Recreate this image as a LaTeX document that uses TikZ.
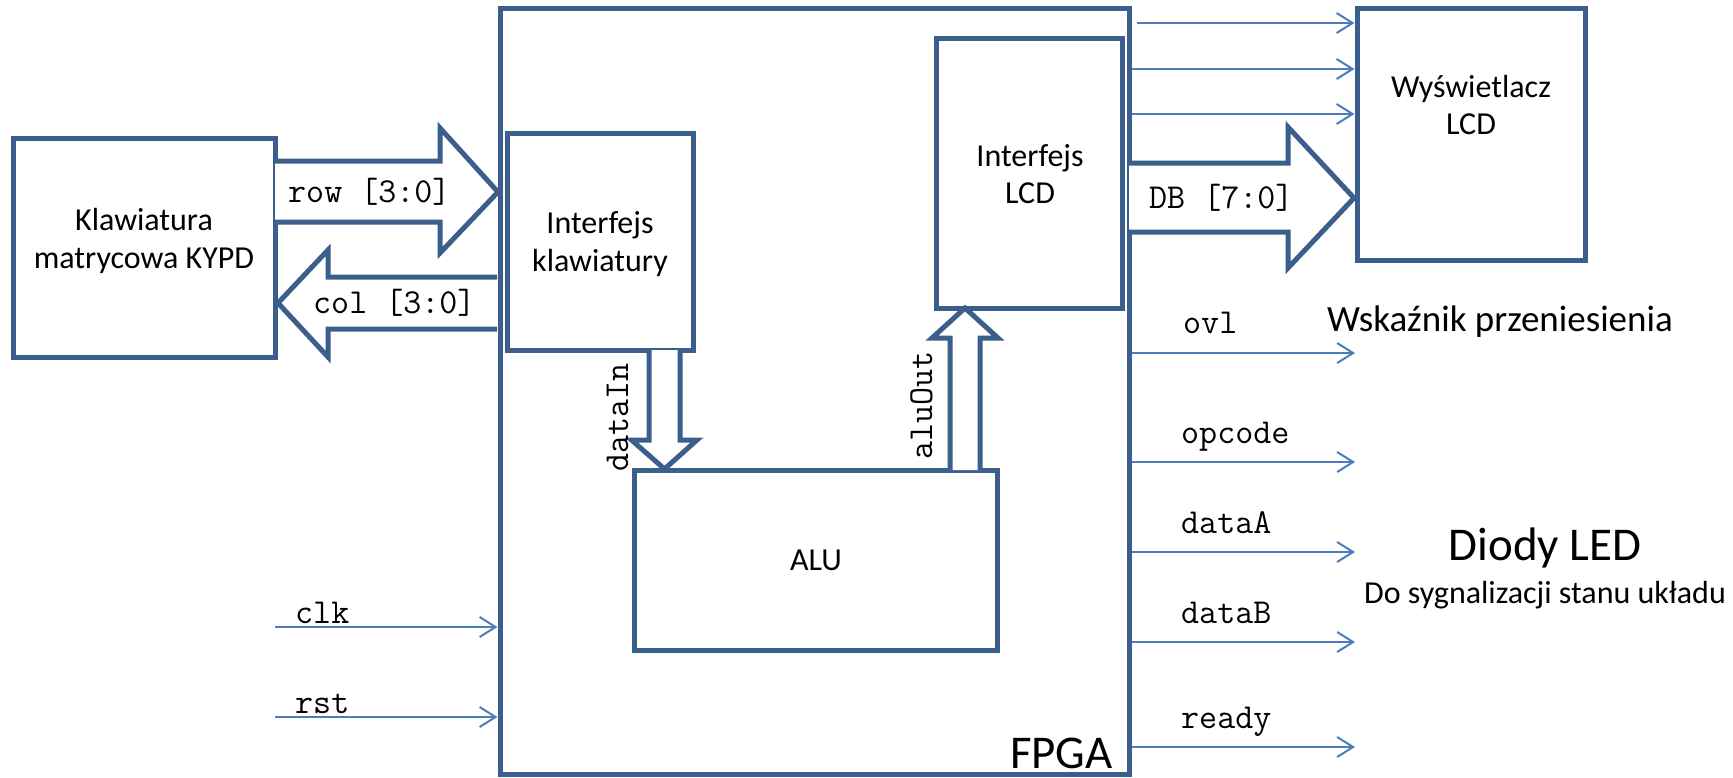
\documentclass[tikz,border=0pt]{standalone}
\usepackage{fontspec}
\setmainfont{Carlito}
\usetikzlibrary{arrows.meta,calc}
\definecolor{boxblue}{HTML}{3B5E8C}
\definecolor{sigblue}{HTML}{4A7EBB}
\begin{document}
\begin{tikzpicture}[x=1pt,y=-1pt,
  box/.style={draw=boxblue, line width=5pt, fill=white, inner sep=0pt, rectangle},
  bus/.style={draw=boxblue, line width=5pt, fill=white, line join=miter},
  sig/.style={draw=sigblue, line width=2pt, -{Straight Barb[length=16pt,width=20pt]}},
  txt/.style={font=\fontsize{32}{37.5}\selectfont, inner sep=0pt, align=center},
  mono/.style={font=\ttfamily\fontsize{35}{40}\selectfont, inner sep=0pt, anchor=base west}]
\useasboundingbox (0,0) rectangle (1733,777);

% boxes
\node[box, minimum width=629pt, minimum height=766pt] (fpga) at (814.5,391) {};
\node[box, minimum width=262pt, minimum height=219pt] (kb) at (144,247.5) {};
\node[box, minimum width=186pt, minimum height=217pt] (ik) at (600,241.5) {};
\node[box, minimum width=186pt, minimum height=270pt] (il) at (1029,173) {};
\node[box, minimum width=363pt, minimum height=180pt] (alu) at (815.5,560) {};
\node[box, minimum width=228pt, minimum height=252pt] (lcd) at (1471,134) {};

% bus arrows
\draw[bus] (275,161) -- (440,161) -- (440,128) -- (498,192) -- (440,253) -- (440,222) -- (275,222);
\draw[bus] (497,277) -- (328,277) -- (328,250) -- (278,303) -- (328,357) -- (328,329) -- (497,329);
\draw[bus] (1129,163) -- (1288,163) -- (1288,127) -- (1354,198) -- (1288,268) -- (1288,232) -- (1129,232);
\draw[bus] (649,350) -- (649,440) -- (631.5,440) -- (664.5,469) -- (697,440) -- (680,440) -- (680,350);
\draw[bus] (950,470) -- (950,338) -- (932,338) -- (965,308) -- (998,338) -- (980,338) -- (980,470);

% signal coordinates
\coordinate (l1) at (1355,23);
\coordinate (l2) at (1355,69);
\coordinate (l3) at (1355,114);
\coordinate (ovlE) at (1355,353);
\coordinate (opE) at (1355,462);
\coordinate (daE) at (1355,552);
\coordinate (dbE) at (1355,642);
\coordinate (rdE) at (1355,747);
\coordinate (clkS) at (275,627);
\coordinate (rstS) at (275,717);

\draw[sig] ($(fpga.east |- l1)+(5,0)$) -- (lcd.west |- l1);
\draw[sig] (fpga.east |- l2) -- (lcd.west |- l2);
\draw[sig] (fpga.east |- l3) -- (lcd.west |- l3);
\draw[sig] (fpga.east |- ovlE) -- (ovlE);
\draw[sig] (fpga.east |- opE) -- (opE);
\draw[sig] (fpga.east |- daE) -- (daE);
\draw[sig] (fpga.east |- dbE) -- (dbE);
\draw[sig] (fpga.east |- rdE) -- (rdE);
\draw[sig] (clkS) -- (fpga.west |- clkS);
\draw[sig] (rstS) -- (fpga.west |- rstS);

% box texts
\node[txt] (kbt) at (144,241) {Klawiatura\\matrycowa KYPD};
\node[txt] (ikt) at (600,244) {Interfejs\\klawiatury};
\node[txt] (ilt) at (1030,174) {Interfejs\\LCD};
\node[txt] (lcdt) at (1471,105) {Wyświetlacz\\LCD};
\node[txt] (alut) at (816,560) {ALU};
\node[inner sep=0pt, anchor=base east, font=\fontsize{47}{50}\selectfont] (fpgat) at (1113,768) {FPGA};

% outside texts
\node[inner sep=0pt, anchor=base west, font=\fontsize{37}{42}\selectfont] (wsk) at (1327,331) {Wskaźnik przeniesienia};
\node[inner sep=0pt, anchor=base, font=\fontsize{47}{50}\selectfont] (diody) at (1545,560) {Diody LED};
\node[inner sep=0pt, anchor=base, font=\fontsize{32}{37}\selectfont] (dosyg) at (1545,603) {Do sygnalizacji stanu układu};

% mono labels
\node[mono] (rowl) at (288,202) {row [3:0]};
\node[mono] (coll) at (313,313) {col [3:0]};
\node[mono] (dbl) at (1149,208) {DB [7:0]};
\node[mono] (ovll) at (1183,333) {ovl};
\node[mono] (opl) at (1181,443) {opcode};
\node[mono] (dal) at (1181,533) {dataA};
\node[mono] (dbbl) at (1181,623) {dataB};
\node[mono] (rdl) at (1181,728) {ready};
\node[mono] (clkl) at (295,623) {clk};
\node[mono] (rstl) at (295,713) {rst};
\node[mono, rotate=90] (dinl) at (628,472) {dataIn};
\node[mono, rotate=90] (aoutl) at (932,460) {aluOut};
\end{tikzpicture}
\end{document}
